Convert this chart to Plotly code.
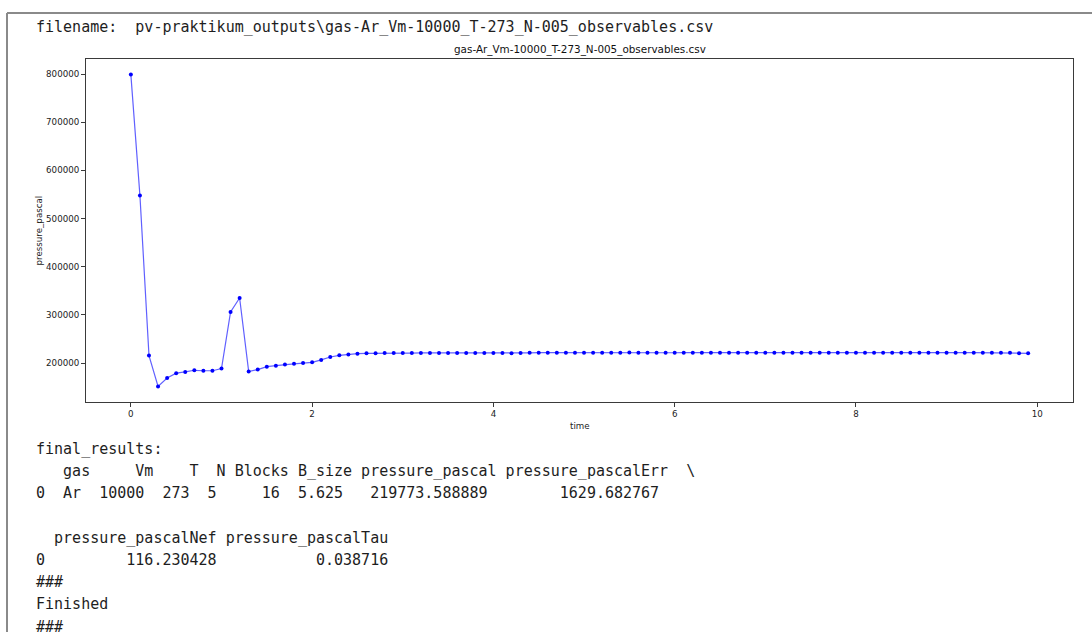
import numpy as np
import plotly.graph_objects as go

W, H = 1092, 632

# ---- data -------------------------------------------------------------
time = np.round(np.arange(0.0, 10.0, 0.1), 1)

pressure_pascal = [
    799000, 548000, 215500, 151500, 169000, 179000, 181500, 185000, 184000, 184000,
    188500, 306000, 335000, 182500, 186500, 192500, 194500, 197000, 198500, 200000,
    201500, 206500, 212500, 216000, 218000, 219500, 220200, 220600, 220800, 220900,
    220700, 220800, 221000, 220900, 220800, 220700, 220900, 221000, 220800, 220900,
    220700, 220800, 220600, 220700, 221300, 221500, 221400, 221600, 221500, 221400,
    221500, 221600, 221500, 221400, 221500, 221700, 221500, 221400, 221600, 221500,
    221400, 221500, 221600, 221500, 221500, 221400, 221600, 221500, 221500, 221400,
    221500, 221600, 221500, 221400, 221500, 221500, 221600, 221500, 221400, 221500,
    221600, 221500, 221400, 221500, 221500, 221600, 221500, 221400, 221500, 221600,
    221500, 221400, 221500, 221600, 221500, 221400, 221500, 221300, 220400, 220300,
]

x_ticks = [0, 2, 4, 6, 8, 10]
y_ticks = [200000, 300000, 400000, 500000, 600000, 700000, 800000]

csv_name = "gas-Ar_Vm-10000_T-273_N-005_observables.csv"
header_line = "filename:  pv-praktikum_outputs\\" + csv_name

results_lines = [
    "final_results:",
    "   gas     Vm    T  N Blocks B_size pressure_pascal pressure_pascalErr  \\",
    "0  Ar  10000  273  5     16  5.625   219773.588889        1629.682767",
    "",
    "  pressure_pascalNef pressure_pascalTau",
    "0         116.230428           0.038716",
    "###",
    "Finished",
    "###",
]

# ---- geometry (pixels) ------------------------------------------------
PLOT_L, PLOT_R, PLOT_T, PLOT_B = 86, 1073, 59, 402
TEXT_X = 34
LINE_STEP = 22.2


def fx(px):
    return px / W


def fy(py):
    return 1 - py / H


# matplotlib-like 5 % autoscale margins
xlo, xhi = float(min(time)), float(max(time))
ylo, yhi = float(min(pressure_pascal)), float(max(pressure_pascal))
xpad, ypad = 0.05 * (xhi - xlo), 0.05 * (yhi - ylo)

fig = go.Figure()
fig.add_trace(go.Scatter(
    x=time, y=pressure_pascal,
    mode="lines+markers",
    line=dict(color="rgba(20,20,255,0.68)", width=1.2),
    marker=dict(color="#0000ff", size=4),
    showlegend=False, hoverinfo="skip",
))

tick_font = dict(family="DejaVu Sans", size=8.7, color="#222")
axis_common = dict(
    showgrid=False, zeroline=False,
    showline=True, mirror=True, linecolor="#3a3a3a", linewidth=1,
    ticks="outside", ticklen=4, tickwidth=1, tickcolor="#3a3a3a",
    tickfont=tick_font,
)

fig.update_layout(
    width=W, height=H,
    margin=dict(l=0, r=0, t=0, b=0),
    paper_bgcolor="white", plot_bgcolor="white",
    xaxis=dict(domain=[fx(PLOT_L), fx(PLOT_R)], range=[xlo - xpad, xhi + xpad],
               tickvals=x_ticks, ticktext=[str(v) for v in x_ticks], **axis_common),
    yaxis=dict(domain=[fy(PLOT_B), fy(PLOT_T)], range=[ylo - ypad, yhi + ypad],
               tickvals=y_ticks, ticktext=[str(v) for v in y_ticks], **axis_common),
)

mono = dict(family="DejaVu Sans Mono", size=15, color="#1e1e1e")


def nb(s):
    # keep runs of spaces intact in the rendered text
    return s.replace(" ", "\u00a0")


annotations = [
    dict(x=fx(TEXT_X), y=fy(27), text=nb(header_line), font=mono),
    dict(x=fx((PLOT_L + PLOT_R) / 2), y=fy(50), text=csv_name, xanchor="center",
         font=dict(family="DejaVu Sans", size=10.4, color="#111")),
    dict(x=fx((PLOT_L + PLOT_R) / 2), y=fy(425.5), text="time", xanchor="center",
         font=tick_font),
    dict(x=fx(38), y=fy((PLOT_T + PLOT_B) / 2), text="pressure_pascal", xanchor="center",
         textangle=-90, font=tick_font),
]
for i, line in enumerate(results_lines):
    if line:
        annotations.append(dict(x=fx(TEXT_X), y=fy(449 + i * LINE_STEP), text=nb(line), font=mono))

for a in annotations:
    a.setdefault("xanchor", "left")
    a.update(xref="paper", yref="paper", yanchor="middle", showarrow=False)
fig.update_layout(annotations=annotations)

# notebook output frame
border = dict(color="#8a8a8a", width=2)
fig.add_shape(type="line", xref="paper", yref="paper", x0=fx(7), x1=1, y0=fy(13), y1=fy(13), line=border)
fig.add_shape(type="line", xref="paper", yref="paper", x0=fx(7), x1=fx(7), y0=fy(13), y1=0, line=border)

fig.write_html("out.html")
